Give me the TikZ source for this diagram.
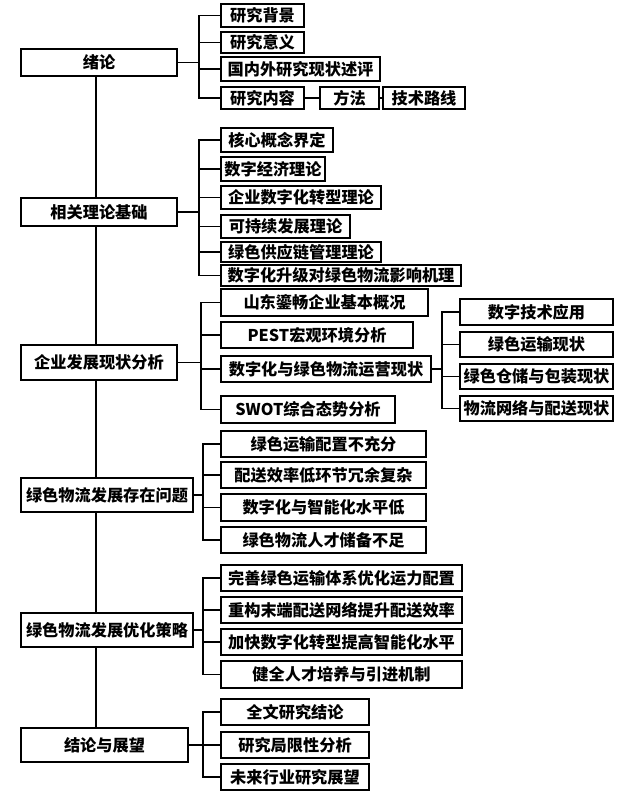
\documentclass[tikz,border=0pt]{standalone}
\usepackage{fontspec}
\newfontfamily\cjk{Noto Sans CJK SC}
\begin{document}
\begin{tikzpicture}[x=1pt,y=-1pt,
  box/.style={draw, line width=2pt, fill=white, inner sep=0pt, anchor=center,
    font=\cjk\bfseries\fontsize{16.2}{16.5}\selectfont},
  link/.style={line width=1.8pt},
  trunk/.style={line width=1.3pt}]
\useasboundingbox[fill=white] (0,0) rectangle (640,794);
% helper: \bx{name}{left}{top}{right}{bottom}{text}
\newcommand\bx[6]{\node[box, minimum width={(#4-#2)*1pt}, minimum height={(#5-#3)*1pt}] (#1) at ({(#2+#4)/2},{(#3+#5)/2}) {#6};}
\coordinate (t) at (96,0);
\coordinate (jA) at (199,0);
\coordinate (jC) at (201,0);
\coordinate (jD) at (442,0);
\coordinate (jE) at (203,0);
% main boxes
\bx{m1}{21}{49}{177}{76}{绪论}
\bx{m2}{21}{198}{177}{226}{相关理论基础}
\bx{m3}{21}{345}{177}{380}{企业发展现状分析}
\bx{m4}{21}{478}{193}{512}{绿色物流发展存在问题}
\bx{m5}{21}{613}{193}{647}{绿色物流发展优化策略}
\bx{m6}{21}{728}{188}{762}{结论与展望}
% trunk
\draw[trunk] (m1.south -| t) -- (m2.north -| t);
\draw[trunk] (m2.south -| t) -- (m3.north -| t);
\draw[trunk] (m3.south -| t) -- (m4.north -| t);
\draw[trunk] (m4.south -| t) -- (m5.north -| t);
\draw[trunk] (m5.south -| t) -- (m6.north -| t);
% group 1
\bx{a1}{221}{4}{304}{27}{研究背景}
\bx{a2}{221}{32}{304}{53}{研究意义}
\bx{a3}{221}{57}{380}{81}{国内外研究现状述评}
\bx{a4}{221}{87}{304}{109}{研究内容}
\bx{a5}{320}{87}{379}{109}{方法}
\bx{a6}{383}{87}{465}{109}{技术路线}
\draw[link] (m1.east) -- (m1.east -| jA);
\foreach \c in {a1,a2,a3,a4} \draw[link] (m1.east -| jA) |- (\c.west);
\draw[link] (a4.east) -- (a5.west);
\draw[link] (a5.east) -- (a6.west);
% group 2
\bx{b1}{221}{128}{333}{152}{核心概念界定}
\bx{b2}{221}{157}{325}{181}{数字经济理论}
\bx{b3}{221}{186}{381}{209}{企业数字化转型理论}
\bx{b4}{221}{215}{350}{238}{可持续发展理论}
\bx{b5}{221}{242}{381}{262}{绿色供应链管理理论}
\bx{b6}{221}{265}{461}{286}{数字化升级对绿色物流影响机理}
\draw[link] (m2.east) -- (m2.east -| jA);
\foreach \c in {b1,b2,b3,b4,b5,b6} \draw[link] (m2.east -| jA) |- (\c.west);
% group 3
\bx{c1}{221}{289}{428}{316}{山东鎏畅企业基本概况}
\bx{c2}{221}{322}{413}{348}{PEST宏观环境分析}
\bx{c3}{221}{356}{431}{382}{数字化与绿色物流运营现状}
\bx{c4}{221}{396}{395}{423}{SWOT综合态势分析}
\draw[link] (m3.east) -- (m3.east -| jC);
\foreach \c in {c1,c2,c3,c4} \draw[link] (m3.east -| jC) |- (\c.west);
\bx{d1}{460}{299}{613}{325}{数字技术应用}
\bx{d2}{460}{332}{613}{357}{绿色运输现状}
\bx{d3}{460}{364}{613}{389}{绿色仓储与包装现状}
\bx{d4}{460}{396}{613}{421}{物流网络与配送现状}
\draw[link] (c3.east) -- (c3.east -| jD);
\foreach \c in {d1,d2,d3,d4} \draw[link] (c3.east -| jD) |- (\c.west);
% group 4
\bx{e1}{221}{431}{426}{457}{绿色运输配置不充分}
\bx{e2}{221}{462}{426}{488}{配送效率低环节冗余复杂}
\bx{e3}{221}{494}{426}{521}{数字化与智能化水平低}
\bx{e4}{221}{527}{426}{553}{绿色物流人才储备不足}
\draw[link] (m4.east) -- (m4.east -| jE);
\foreach \c in {e1,e2,e3,e4} \draw[link] (m4.east -| jE) |- (\c.west);
% group 5
\bx{f1}{221}{565}{462}{591}{完善绿色运输体系优化运力配置}
\bx{f2}{221}{597}{462}{623}{重构末端配送网络提升配送效率}
\bx{f3}{221}{629}{462}{655}{加快数字化转型提高智能化水平}
\bx{f4}{221}{661}{462}{688}{健全人才培养与引进机制}
\draw[link] (m5.east) -- (m5.east -| jE);
\foreach \c in {f1,f2,f3,f4} \draw[link] (m5.east -| jE) |- (\c.west);
% group 6
\bx{g1}{221}{699}{369}{725}{全文研究结论}
\bx{g2}{221}{732}{369}{758}{研究局限性分析}
\bx{g3}{221}{764}{369}{790}{未来行业研究展望}
\draw[link] (m6.east) -- (m6.east -| jE);
\foreach \c in {g1,g2,g3} \draw[link] (m6.east -| jE) |- (\c.west);
\end{tikzpicture}
\end{document}
